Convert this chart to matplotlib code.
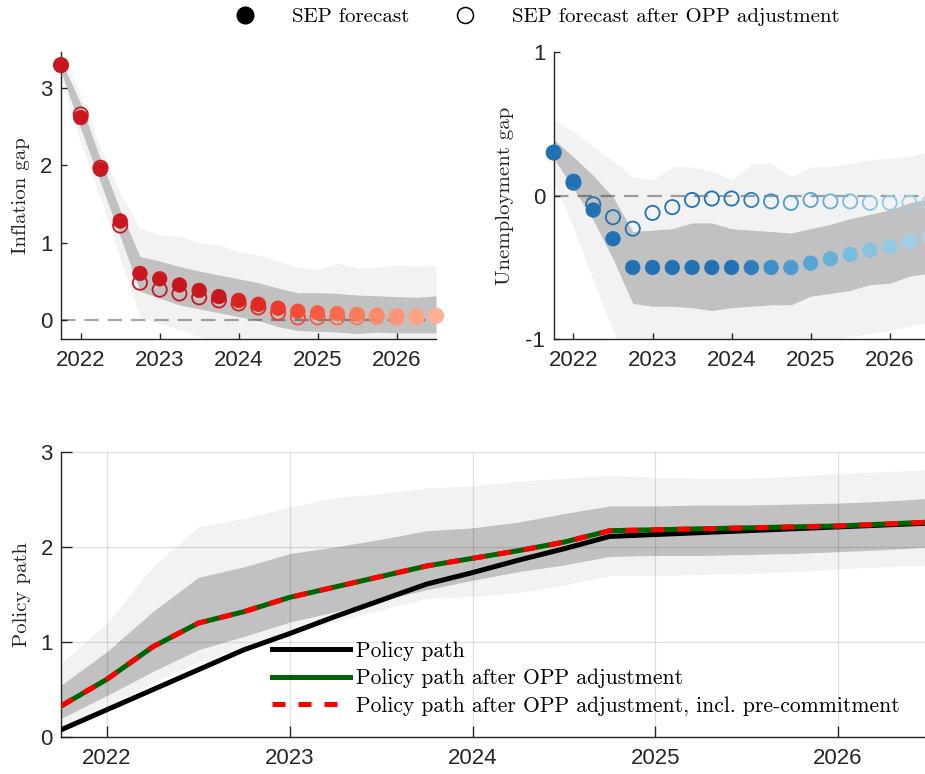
import matplotlib
matplotlib.use('Agg')
import matplotlib.pyplot as plt
from matplotlib.lines import Line2D

plt.rcParams['axes.unicode_minus'] = False

# quarterly horizon, 2021Q4 .. 2026Q3
quarters = [2021.75, 2022.00, 2022.25, 2022.50, 2022.75, 2023.00, 2023.25, 2023.50,
            2023.75, 2024.00, 2024.25, 2024.50, 2024.75, 2025.00, 2025.25, 2025.50,
            2025.75, 2026.00, 2026.25, 2026.50]
years = [2022, 2023, 2024, 2025, 2026]

# inflation gap
infl_sep = [3.30, 2.62, 1.95, 1.28, 0.60, 0.53, 0.45, 0.38, 0.30, 0.25,
            0.20, 0.15, 0.11, 0.09, 0.08, 0.07, 0.06, 0.05, 0.05, 0.05]
infl_opp = [3.30, 2.66, 1.97, 1.22, 0.48, 0.39, 0.34, 0.29, 0.25, 0.21,
            0.16, 0.09, 0.03, 0.03, 0.03, 0.03, 0.04, 0.03, 0.03, 0.05]
infl_in_hi = [3.36, 2.80, 2.08, 1.42, 0.82, 0.76, 0.69, 0.63, 0.58, 0.53,
              0.48, 0.41, 0.35, 0.35, 0.34, 0.32, 0.31, 0.30, 0.29, 0.31]
infl_in_lo = [3.22, 2.48, 1.78, 1.08, 0.37, 0.28, 0.19, 0.14, 0.09, 0.04,
              -0.01, -0.09, -0.14, -0.15, -0.16, -0.18, -0.16, -0.17, -0.17, -0.17]
infl_out_hi = [3.45, 2.92, 2.22, 1.64, 1.19, 1.10, 1.08, 0.99, 0.97, 0.88,
               0.84, 0.76, 0.68, 0.65, 0.73, 0.67, 0.68, 0.71, 0.69, 0.70]
infl_out_lo = [3.15, 2.30, 1.58, 0.80, 0.04, -0.06, -0.13, -0.22, -0.30, -0.36,
               -0.40, -0.45, -0.50, -0.52, -0.54, -0.55, -0.56, -0.57, -0.58, -0.58]

# unemployment gap
unemp_sep = [0.30, 0.10, -0.10, -0.30, -0.50, -0.50, -0.50, -0.50, -0.50, -0.50,
             -0.50, -0.50, -0.50, -0.47, -0.44, -0.41, -0.38, -0.355, -0.32, -0.29]
unemp_opp = [0.30, 0.09, -0.06, -0.15, -0.23, -0.12, -0.08, -0.03, -0.02, -0.02,
             -0.03, -0.04, -0.05, -0.03, -0.04, -0.04, -0.05, -0.05, -0.05, -0.05]
unemp_in_hi = [0.39, 0.27, 0.14, -0.01, -0.25, -0.24, -0.23, -0.19, -0.19, -0.23,
               -0.24, -0.25, -0.26, -0.23, -0.20, -0.16, -0.13, -0.10, -0.05, -0.02]
unemp_in_lo = [0.26, 0.05, -0.17, -0.44, -0.75, -0.77, -0.77, -0.78, -0.80, -0.78,
               -0.77, -0.76, -0.76, -0.70, -0.68, -0.66, -0.62, -0.61, -0.56, -0.54]
unemp_out_hi = [0.53, 0.45, 0.34, 0.24, 0.13, 0.11, 0.20, 0.20, 0.17, 0.11,
                0.22, 0.225, 0.13, 0.20, 0.20, 0.225, 0.25, 0.26, 0.27, 0.31]
unemp_out_lo = [0.10, -0.22, -0.59, -0.94, -1.25, -1.25, -1.25, -1.25, -1.20, -1.20,
                -1.20, -1.15, -1.10, -1.05, -1.00, -0.98, -0.96, -0.94, -0.91, -0.88]

# policy rate paths
policy = [0.08, 0.29, 0.50, 0.71, 0.92, 1.09, 1.27, 1.44, 1.61, 1.73,
          1.86, 1.98, 2.11, 2.13, 2.15, 2.17, 2.19, 2.21, 2.23, 2.25]
policy_opp = [0.33, 0.61, 0.95, 1.20, 1.32, 1.47, 1.58, 1.69, 1.80, 1.88,
              1.96, 2.05, 2.17, 2.18, 2.19, 2.20, 2.21, 2.22, 2.24, 2.26]
policy_opp_pc = [0.33, 0.61, 0.95, 1.20, 1.32, 1.47, 1.58, 1.69, 1.80, 1.88,
                 1.96, 2.05, 2.17, 2.18, 2.19, 2.20, 2.21, 2.22, 2.24, 2.26]
pol_in_hi = [0.55, 0.90, 1.32, 1.68, 1.79, 1.93, 2.00, 2.08, 2.17, 2.20,
             2.26, 2.35, 2.43, 2.43, 2.44, 2.44, 2.45, 2.46, 2.48, 2.51]
pol_in_lo = [0.20, 0.44, 0.69, 0.92, 1.06, 1.21, 1.32, 1.44, 1.55, 1.65,
             1.74, 1.81, 1.90, 1.91, 1.91, 1.92, 1.93, 1.95, 1.97, 2.00]
pol_out_hi = [0.78, 1.20, 1.79, 2.21, 2.30, 2.42, 2.52, 2.56, 2.62, 2.64,
              2.69, 2.72, 2.75, 2.73, 2.72, 2.72, 2.74, 2.77, 2.79, 2.81]
pol_out_lo = [0.11, 0.32, 0.57, 0.79, 0.95, 1.09, 1.21, 1.34, 1.46, 1.48,
              1.52, 1.60, 1.70, 1.70, 1.71, 1.72, 1.74, 1.77, 1.79, 1.81]

# marker shades fade along the horizon
reds = ['#c8171e'] * 9 + ['#d8231f', '#e02a24', '#ec3a2c', '#f44d36', '#f85c40',
                          '#fb6a4a', '#fc7b59', '#fc8a68', '#fc9676', '#fca384', '#fcb095']
blues = ['#2171b5'] * 10 + ['#2e7ebf', '#3d8fc7', '#4b9bd0', '#56a5d4', '#66b0da',
                            '#77bbe0', '#86c3e3', '#92c9e5', '#9dcfe7', '#a8d4e9']

BAND_IN = '#c1c1c1'
BAND_OUT = '#f2f2f2'
AX_COL = '#262626'
TICK_FONT = 'Liberation Sans'
TEX_FONT = 'cmr10'

fig = plt.figure(figsize=(9.25, 7.74), dpi=100)
ax_inf = fig.add_axes([61 / 925, 1 - 339 / 774, 375 / 925, 287 / 774])
ax_un = fig.add_axes([553.7 / 925, 1 - 339.3 / 774, 375.5 / 925, 287.3 / 774])
ax_pol = fig.add_axes([61.3 / 925, 1 - 737.3 / 774, 868.1 / 925, 285.6 / 774])


def style_axes(ax, yticks, ticklen):
    ax.set_xlim(2021.75, 2026.5)
    ax.set_xticks(years)
    ax.set_xticklabels([str(y) for y in years])
    ax.set_yticks(yticks)
    ax.spines['top'].set_visible(False)
    ax.spines['right'].set_visible(False)
    for s in ('left', 'bottom'):
        ax.spines[s].set_color(AX_COL)
        ax.spines[s].set_linewidth(1.0)
    ax.tick_params(direction='in', length=ticklen, width=1.0, color=AX_COL,
                   labelcolor=AX_COL, labelsize=16)
    ax.tick_params(axis='x', pad=8)
    ax.tick_params(axis='y', pad=6)
    for lab in ax.get_xticklabels() + ax.get_yticklabels():
        lab.set_fontfamily(TICK_FONT)


def gap_panel(ax, sep, opp, in_lo, in_hi, out_lo, out_hi, colors):
    ax.fill_between(quarters, out_lo, out_hi, color=BAND_OUT, lw=0, zorder=0.5)
    ax.fill_between(quarters, in_lo, in_hi, color=BAND_IN, lw=0, zorder=0.6)
    ax.axhline(0, color='k', alpha=0.35, lw=1.6, dashes=(6.5, 4), zorder=1.5)
    ax.scatter(quarters, opp, s=105, facecolors='none', edgecolors=colors,
               linewidths=1.3, zorder=3, clip_on=False)
    ax.scatter(quarters, sep, s=110, c=colors, edgecolors=colors,
               linewidths=0.5, zorder=4, clip_on=False)


# inflation gap
gap_panel(ax_inf, infl_sep, infl_opp, infl_in_lo, infl_in_hi,
          infl_out_lo, infl_out_hi, reds)
ax_inf.set_ylim(-0.25, 3.47)
style_axes(ax_inf, [0, 1, 2, 3], 4)
ax_inf.set_ylabel('Inflation gap', fontfamily=TEX_FONT, fontsize=15,
                  color=AX_COL, labelpad=7)

# unemployment gap
gap_panel(ax_un, unemp_sep, unemp_opp, unemp_in_lo, unemp_in_hi,
          unemp_out_lo, unemp_out_hi, blues)
ax_un.set_ylim(-1, 1)
style_axes(ax_un, [-1, 0, 1], 4)
ax_un.set_ylabel('Unemployment gap', fontfamily=TEX_FONT, fontsize=15,
                 color=AX_COL, labelpad=8)

# policy path
ax_pol.fill_between(quarters, pol_out_lo, pol_out_hi, color=BAND_OUT, lw=0, zorder=0.5)
ax_pol.fill_between(quarters, pol_in_lo, pol_in_hi, color=BAND_IN, lw=0, zorder=0.6)
ax_pol.grid(True, color='k', alpha=0.12, lw=0.9)
ax_pol.plot(quarters, policy, color='k', lw=3.6, label='Policy path', zorder=3)
ax_pol.plot(quarters, policy_opp, color='#006400', lw=3.6,
            label='Policy path after OPP adjustment', zorder=4)
ax_pol.plot(quarters, policy_opp_pc, color='#ff0000', lw=3.6, dashes=(2.6, 2.6),
            label='Policy path after OPP adjustment, incl. pre-commitment', zorder=5)
ax_pol.set_ylim(0, 3)
style_axes(ax_pol, [0, 1, 2, 3], 8)
ax_pol.set_ylabel('Policy path', fontfamily=TEX_FONT, fontsize=15,
                  color=AX_COL, labelpad=7)
ax_pol.legend(loc='center left', bbox_to_anchor=(272.2 / 925, 1 - 678.6 / 774),
              bbox_transform=fig.transFigure, frameon=False, borderpad=0,
              borderaxespad=0, handlelength=3.6, handletextpad=0.3,
              labelspacing=0.37, prop={'family': TEX_FONT, 'size': 15.5})

# shared marker legend
handles = [Line2D([], [], ls='none', marker='o', markersize=12, color='k'),
           Line2D([], [], ls='none', marker='o', markersize=11.5, mfc='none',
                  mec='k', mew=1.1)]
fig.legend(handles, ['SEP forecast', 'SEP forecast after OPP adjustment'],
           loc='center left', bbox_to_anchor=(234.6 / 925, 1 - 17 / 774), ncol=2,
           frameon=False, borderpad=0, borderaxespad=0, handlelength=1.0,
           handletextpad=1.75, columnspacing=2.2,
           prop={'family': TEX_FONT, 'size': 15})

fig.savefig('out.png', dpi=100)
